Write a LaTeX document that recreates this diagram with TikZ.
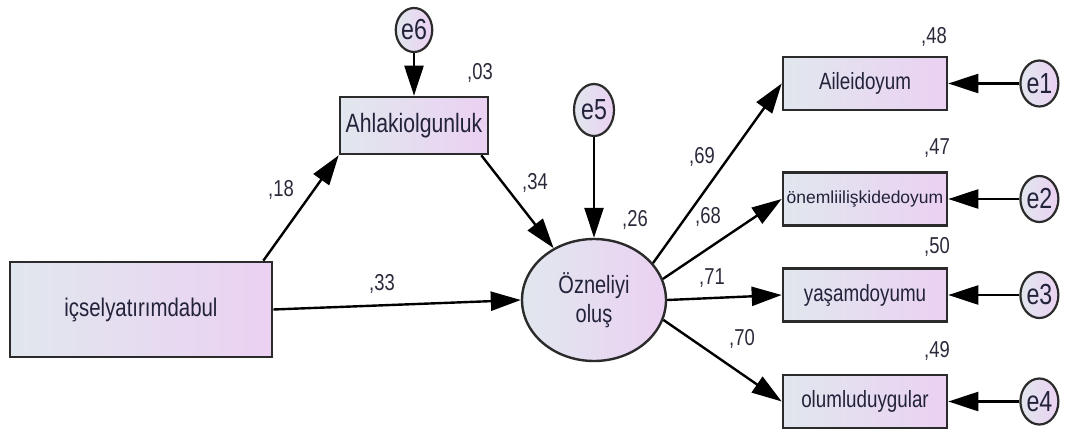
\documentclass[tikz,border=0pt]{standalone}
\usepackage{fontspec}
\setmainfont{Liberation Sans}[FakeStretch=0.8]
\newfontfamily\plainsans{Liberation Sans}
\usepackage{tikz}
\usetikzlibrary{arrows.meta,positioning,shapes.geometric}
\definecolor{semleft}{HTML}{E1E7EE}
\definecolor{semright}{HTML}{EBD1F2}
\definecolor{semline}{HTML}{2B2B2B}
\definecolor{semtext}{HTML}{22223A}
\definecolor{semnum}{HTML}{2A2A3A}
\begin{document}
\begin{tikzpicture}[
 x=1pt, y=-1pt,
 obs/.style={draw=semline,line width=2.6pt,left color=semleft,right color=semright,inner sep=0pt,text=semtext,
  minimum width=164pt,minimum height=53pt,font=\fontsize{23.5}{24}\selectfont},
 lat/.style={ellipse,draw=semline,line width=2.4pt,left color=semleft,right color=semright,inner sep=0pt,text=semtext,align=center},
 err/.style={lat,line width=2.2pt,minimum width=38pt,minimum height=46pt,font=\fontsize{29}{29}\selectfont},
 reg/.style={-{Triangle[length=30pt,width=19pt]},line width=2.4pt,black},
 coef/.style={inner sep=0pt,text=semnum,font=\fontsize{23}{23}\selectfont}
]
\useasboundingbox (0,0) rectangle (1065,431);
% observed and latent variables
\node[obs,minimum width=262pt,minimum height=95pt,font=\fontsize{25.5}{26}\selectfont] (icsel) at (141,309.5) {içselyatırımdabul};
\node[obs,minimum width=148pt,minimum height=57pt,font=\fontsize{26.5}{27}\selectfont] (ahlak) at (414,125.5) {Ahlakiolgunluk};
\node[lat,minimum width=144pt,minimum height=122pt,font=\fontsize{25}{29}\selectfont] (oznel) at (594,300) {Özneliyi\\oluş};
\node[obs] (aile) at (865,83.5) {Aileidoyum};
\node[obs,font=\plainsans\fontsize{17.5}{18}\selectfont] (onemli) at (865,199) {önemliilişkidedoyum};
\node[obs] (yasam) at (865,295) {yaşamdoyumu};
\node[obs] (olumlu) at (865,401.5) {olumluduygular};
% error terms
\node[err,right=71pt of aile] (e1) {e1};
\node[err,right=71pt of onemli] (e2) {e2};
\node[err,right=71pt of yasam] (e3) {e3};
\node[err,right=71pt of olumlu] (e4) {e4};
\node[err,minimum width=40pt,minimum height=52pt] (e5) at (594,110) {e5};
\node[err,minimum width=36pt,minimum height=44pt] (e6) at (414,30) {e6};
% paths
\draw[reg] ([xshift=-10pt]icsel.north east) -- (ahlak.south west);
\draw[reg] ([xshift=-8pt]ahlak.south east) -- (oznel);
\draw[reg] (icsel.east) -- (oznel.west);
\draw[reg] (e6) -- (ahlak);
\draw[reg] (e5) -- (oznel);
\draw[reg] (oznel.32) -- (aile.west);
\draw[reg] (oznel.17) -- (onemli.west);
\draw[reg] (oznel.east) -- (yasam.west);
\draw[reg] (oznel.-16) -- (olumlu.west);
\foreach \e/\v in {e1/aile,e2/onemli,e3/yasam,e4/olumlu}
 \draw[reg] (\e) -- (\v);
% estimates
\node[coef] (c18) at (281,190) {,18};
\node[coef] (c03) at (480,73) {,03};
\node[coef] (c34) at (535,183) {,34};
\node[coef] (c33) at (382,284) {,33};
\node[coef] (c26) at (635,220) {,26};
\node[coef] (c69) at (702,157) {,69};
\node[coef] (c68) at (708,217) {,68};
\node[coef] (c71) at (712,278) {,71};
\node[coef] (c70) at (742,339) {,70};
\node[coef] (c48) at (934,37) {,48};
\node[coef] (c47) at (937,148) {,47};
\node[coef] (c50) at (937,247) {,50};
\node[coef] (c49) at (937,351) {,49};
\end{tikzpicture}
\end{document}
